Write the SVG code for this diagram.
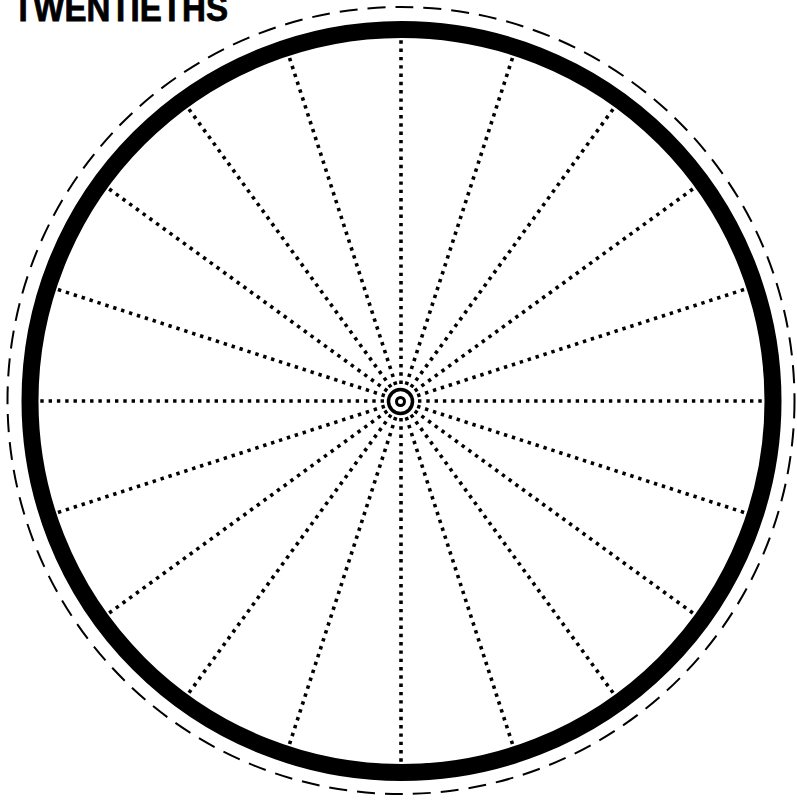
<svg xmlns="http://www.w3.org/2000/svg" width="797" height="800" viewBox="0 0 797 800">
<style>
.spoke{stroke:#000;stroke-width:3.6;stroke-dasharray:3.4 4.9;fill:none}
.title{font-family:"Liberation Sans",Arial,sans-serif;font-weight:bold;font-size:36px;fill:#000;stroke:#000;stroke-width:0.8}
</style>
<defs>
<line id="sp" class="spoke" x1="0" y1="-17" x2="0" y2="-363"/>
</defs>
<rect width="797" height="800" fill="#fff"/>
<g id="title"><text class="title" x="13" y="21" textLength="215" lengthAdjust="spacingAndGlyphs">TWENTIETHS</text></g>
<g id="outer-dashed"><circle cx="401" cy="400.5" r="393.5" fill="none" stroke="#000" stroke-width="2" stroke-dasharray="18 10"/></g>
<g id="spokes" transform="translate(401 401)">
<use href="#sp" transform="rotate(0)"/><use href="#sp" transform="rotate(18)"/><use href="#sp" transform="rotate(36)"/><use href="#sp" transform="rotate(54)"/><use href="#sp" transform="rotate(72)"/>
<use href="#sp" transform="rotate(90)"/><use href="#sp" transform="rotate(108)"/><use href="#sp" transform="rotate(126)"/><use href="#sp" transform="rotate(144)"/><use href="#sp" transform="rotate(162)"/>
<use href="#sp" transform="rotate(180)"/><use href="#sp" transform="rotate(198)"/><use href="#sp" transform="rotate(216)"/><use href="#sp" transform="rotate(234)"/><use href="#sp" transform="rotate(252)"/>
<use href="#sp" transform="rotate(270)"/><use href="#sp" transform="rotate(288)"/><use href="#sp" transform="rotate(306)"/><use href="#sp" transform="rotate(324)"/><use href="#sp" transform="rotate(342)"/>
</g>
<g id="rim"><circle cx="401.5" cy="401" r="371.5" fill="none" stroke="#000" stroke-width="17"/></g>
<g id="hub">
<circle cx="400.5" cy="401.5" r="12" fill="#fff" stroke="#000" stroke-width="3.5"/>
<circle cx="400.5" cy="401.5" r="4" fill="#fff" stroke="#000" stroke-width="3"/>
</g>
</svg>
